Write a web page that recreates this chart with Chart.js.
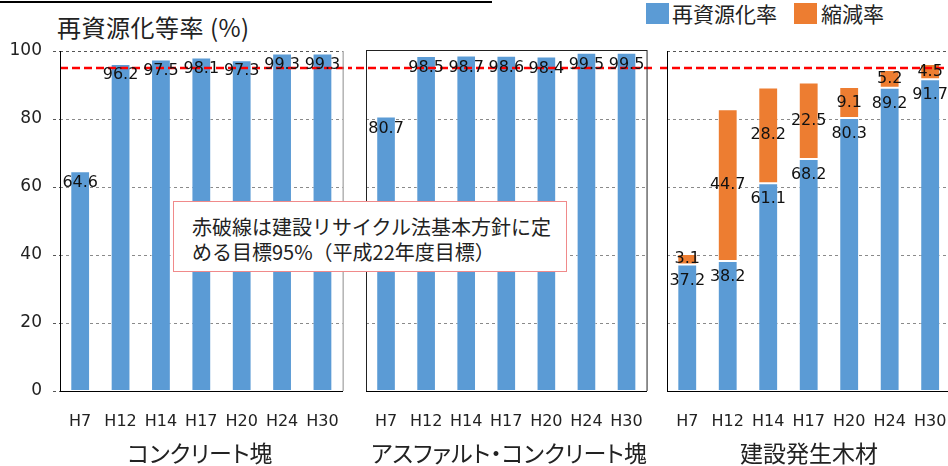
<!DOCTYPE html>
<html>
<head>
<meta charset="utf-8">
<script src="https://cdn.jsdelivr.net/npm/chart.js@4/dist/chart.umd.min.js"></script>
<style>
  html, body { margin: 0; padding: 0; background: #fff; overflow: hidden; }
  body { width: 948px; height: 466px; position: relative; font-family: "Noto Sans CJK JP", sans-serif; color: #222; }
  .pane { position: absolute; top: 0; height: 466px; }
  .txt { position: absolute; white-space: nowrap; line-height: 1; }
  .cap { position: absolute; top: 441px; font-size: 23px; font-feature-settings: "palt"; transform: translateX(-50%); white-space: nowrap; line-height: 1; }
  .sw { position: absolute; top: 3px; width: 23px; height: 21px; }
  #note { position: absolute; left: 173px; top: 201px; width: 394px; height: 71px; border: 1px solid #f08a8a; background: #fff; box-sizing: border-box; }
  #note div { position: absolute; left: 18px; font-size: 20px; white-space: nowrap; line-height: 1; }
</style>
</head>
<body>
<div style="position:absolute;left:0;top:1px;width:492px;height:2px;background:#000"></div>
<div class="txt" style="left:57px;top:15px;font-size:24px;letter-spacing:0.5px;">再資源化等率 (%)</div>

<div class="sw" style="left:646px;background:#5b9bd5"></div>
<div class="txt" style="left:672px;top:3px;font-size:21px;">再資源化率</div>
<div class="sw" style="left:794px;background:#ed7d31"></div>
<div class="txt" style="left:821px;top:3px;font-size:21px;">縮減率</div>

<div class="pane" style="left:0;width:352px"><canvas id="c1"></canvas></div>
<div class="pane" style="left:356px;width:300px"><canvas id="c2"></canvas></div>
<div class="pane" style="left:660px;width:300px"><canvas id="c3"></canvas></div>

<div class="cap" style="left:200px">コンクリート塊</div>
<div class="cap" style="left:509px">アスファルト・コンクリート塊</div>
<div class="cap" style="left:809px">建設発生木材</div>

<div id="note">
  <div style="top:15px">赤破線は建設リサイクル法基本方針に定</div>
  <div style="top:40px">める目標95%（平成22年度目標）</div>
</div>

<script>
// ------------------------
// DATA
// ------------------------
const years = ["H7", "H12", "H14", "H17", "H20", "H24", "H30"];
const concrete = [64.6, 96.2, 97.5, 98.1, 97.3, 99.3, 99.3];
const asphalt = [80.7, 98.5, 98.7, 98.6, 98.4, 99.5, 99.5];
const woodRecycle = [37.2, 38.2, 61.1, 68.2, 80.3, 89.2, 91.7];
const woodReduce = [3.1, 44.7, 28.2, 22.5, 9.1, 5.2, 4.5];
const yTicks = [0, 20, 40, 60, 80, 100];
const target = 95;

const BLUE = "#5b9bd5";
const ORANGE = "#ed7d31";

// dashed grid lines (and small tick marks on the first pane)
const dashedGrid = {
  id: "dashedGrid",
  beforeDatasetsDraw(chart, args, opts) {
    const { left, right } = chart.chartArea;
    const ys = chart.scales.y;
    const ctx = chart.ctx;
    ctx.save();
    ctx.lineWidth = 1;
    ctx.setLineDash([3, 3]);
    yTicks.forEach(v => {
      const y = Math.round(ys.getPixelForValue(v)) + 0.5;
      if (opts.ticks) {
        ctx.strokeStyle = "#555";
        ctx.beginPath(); ctx.moveTo(left - 7, y); ctx.lineTo(left, y); ctx.stroke();
      }
      if (v === 0) return;
      if (v === 100 && !opts.top) return;
      ctx.strokeStyle = v === 100 ? "#555" : "#8a8a8a";
      ctx.beginPath(); ctx.moveTo(left, y); ctx.lineTo(right, y); ctx.stroke();
    });
    ctx.restore();
  }
};

// red dashed target line, runs across the whole pane
const targetLine = {
  id: "targetLine",
  afterDatasetsDraw(chart, args, opts) {
    const ctx = chart.ctx;
    const y = chart.scales.y.getPixelForValue(target);
    ctx.save();
    ctx.strokeStyle = "#ff0000";
    ctx.lineWidth = 2.5;
    ctx.setLineDash([8, 4]);
    ctx.beginPath();
    ctx.moveTo(opts.fromAxis ? chart.chartArea.left : 0, y);
    ctx.lineTo(chart.width, y);
    ctx.stroke();
    ctx.restore();
  }
};

// value labels on bars
const barLabels = {
  id: "barLabels",
  afterDatasetsDraw(chart) {
    const ctx = chart.ctx;
    ctx.save();
    ctx.font = "16px 'DejaVu Sans'";
    ctx.fillStyle = "#111";
    ctx.textAlign = "center";
    ctx.textBaseline = "middle";
    chart.data.datasets.forEach((ds, i) => {
      const meta = chart.getDatasetMeta(i);
      meta.data.forEach((bar, j) => {
        const y = ds.labelPos === "middle"
          ? (bar.y + bar.base) / 2
          : bar.y + (ds.labelOffset || 12);
        ctx.fillText(ds.data[j].toFixed(1), bar.x, y);
      });
    });
    ctx.restore();
  }
};

// frame sides not covered by the x axis
const frame = {
  id: "frame",
  afterDraw(chart, args, opts) {
    const { left, right, top, bottom } = chart.chartArea;
    const ctx = chart.ctx;
    ctx.save();
    ctx.lineWidth = 1;
    if (opts.right) {
      ctx.strokeStyle = opts.right;
      ctx.beginPath(); ctx.moveTo(right + 0.5, top); ctx.lineTo(right + 0.5, bottom); ctx.stroke();
    }
    if (opts.top) {
      ctx.strokeStyle = opts.top;
      ctx.beginPath(); ctx.moveTo(left, top - 0.5); ctx.lineTo(right + 1, top - 0.5); ctx.stroke();
    }
    if (opts.left) {
      ctx.strokeStyle = opts.left;
      ctx.beginPath(); ctx.moveTo(left + 0.5, top); ctx.lineTo(left + 0.5, bottom); ctx.stroke();
    }
    ctx.restore();
  }
};

function makePanel(id, datasets, cfg) {
  return new Chart(document.getElementById(id), {
    type: "bar",
    data: { labels: years, datasets },
    plugins: [dashedGrid, targetLine, barLabels, frame],
    options: {
      responsive: true,
      maintainAspectRatio: false,
      animation: false,
      layout: { padding: { top: 51, bottom: 0, left: cfg.padLeft, right: cfg.padRight } },
      plugins: {
        legend: { display: false },
        tooltip: { enabled: false },
        targetLine: { fromAxis: cfg.showY },
        dashedGrid: { ticks: cfg.showY, top: cfg.gridTop },
        frame: cfg.frame
      },
      scales: {
        x: {
          stacked: true,
          grid: { display: false },
          border: { display: true, color: "#000", width: 1 },
          ticks: { font: { family: "DejaVu Sans", size: 16 }, color: "#222", padding: 13 },
          afterFit: s => { s.height = 75; }
        },
        y: {
          stacked: true,
          min: 0,
          max: 100,
          afterBuildTicks: s => { s.ticks = yTicks.map(v => ({ value: v })); },
          grid: { display: false },
          border: { display: false },
          ticks: {
            display: cfg.showY,
            font: { family: "DejaVu Sans", size: 17 },
            color: "#222",
            padding: 10
          },
          afterFit: s => { s.width = cfg.showY ? 60 : 0; }
        }
      }
    }
  });
}

function bars(data, color, extra) {
  return Object.assign({
    data,
    backgroundColor: color,
    borderColor: "rgba(255,255,255,0.55)",
    borderWidth: 1,
    borderSkipped: false,
    barPercentage: 0.49,
    categoryPercentage: 1
  }, extra);
}

makePanel("c1", [bars(concrete, BLUE, { labelOffset: 11 })], {
  padLeft: 0, padRight: 5, showY: true, gridTop: true,
  frame: { left: "#000", right: "#8c8c8c" }
});
makePanel("c2", [bars(asphalt, BLUE, { labelOffset: 12 })], {
  padLeft: 10, padRight: 4, showY: false, gridTop: false,
  frame: { right: "#222", top: "#222", left: "#222" }
});
makePanel("c3", [
  bars(woodRecycle, BLUE, { labelOffset: 16 }),
  bars(woodReduce, ORANGE, { labelPos: "middle" })
], {
  padLeft: 7, padRight: 9, showY: false, gridTop: true,
  frame: { left: "#000" }
});
</script>
</body>
</html>
